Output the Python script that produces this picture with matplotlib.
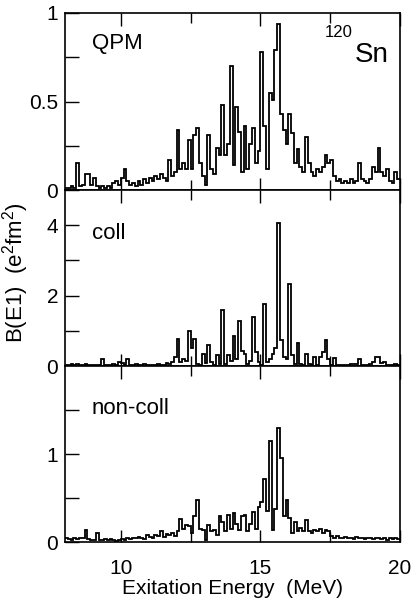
import numpy as np
import matplotlib
matplotlib.use("Agg")
import matplotlib.pyplot as plt
from matplotlib.ticker import FixedLocator

plt.rcParams['font.family'] = ['Liberation Sans', 'DejaVu Sans']
plt.rcParams['mathtext.fontset'] = 'custom'
plt.rcParams['mathtext.rm'] = 'Liberation Sans'
plt.rcParams['mathtext.it'] = 'Liberation Sans'

# bin edges: 8.0 ... 20.0 MeV, 0.1 MeV bins
e_min, e_max, bin_w = 8.0, 20.0, 0.1

qpm = [0.01, 0.01, 0.02, 0.01, 0.155, 0.02, 0.03, 0.09, 0.09, 0.03,
       0.065, 0.02, 0.01, 0.02, 0.01, 0.02, 0.01, 0.04, 0.05, 0.03,
       0.07, 0.12, 0.05, 0.03, 0.04, 0.02, 0.05, 0.03, 0.06, 0.04,
       0.07, 0.05, 0.08, 0.06, 0.09, 0.07, 0.05, 0.17, 0.08, 0.10,
       0.34, 0.12, 0.15, 0.12, 0.28, 0.12, 0.31, 0.35, 0.15, 0.08,
       0.03, 0.31, 0.12, 0.09, 0.235, 0.20, 0.48, 0.20, 0.26, 0.70,
       0.14, 0.47, 0.33, 0.10, 0.36, 0.12, 0.26, 0.35, 0.15, 0.22,
       0.78, 0.36, 0.12, 0.55, 0.51, 0.79, 0.94, 0.43, 0.34, 0.26,
       0.43, 0.32, 0.15, 0.23, 0.13, 0.10, 0.30, 0.15, 0.10, 0.08,
       0.12, 0.10, 0.13, 0.20, 0.15, 0.17, 0.08, 0.05, 0.06, 0.04,
       0.05, 0.04, 0.06, 0.04, 0.05, 0.15, 0.06, 0.05, 0.04, 0.06,
       0.13, 0.10, 0.24, 0.10, 0.08, 0.12, 0.05, 0.04, 0.10, 0.06]

coll = [0.03, 0.03, 0.05, 0.03, 0.07, 0.03, 0.02, 0.05, 0.04, 0.03,
        0.02, 0.03, 0.03, 0.20, 0.03, 0.02, 0.03, 0.05, 0.03, 0.10,
        0.08, 0.04, 0.20, 0.03, 0.03, 0.05, 0.02, 0.03, 0.05, 0.02,
        0.03, 0.04, 0.02, 0.05, 0.03, 0.04, 0.08, 0.05, 0.10, 0.25,
        0.76, 0.10, 0.20, 0.15, 1.00, 0.52, 0.76, 0.05, 0.03, 0.33,
        0.08, 0.61, 0.10, 0.03, 0.30, 0.05, 1.58, 0.05, 0.30, 0.15,
        0.85, 0.20, 1.27, 0.43, 0.35, 0.05, 0.15, 1.39, 0.40, 0.10,
        0.03, 1.75, 0.10, 0.20, 0.35, 0.50, 4.05, 0.73, 0.25, 0.20,
        2.34, 0.30, 0.05, 0.64, 0.05, 0.03, 0.33, 0.05, 0.02, 0.26,
        0.03, 0.26, 0.40, 0.75, 0.20, 0.03, 0.22, 0.03, 0.02, 0.03,
        0.02, 0.03, 0.05, 0.06, 0.05, 0.20, 0.02, 0.03, 0.02, 0.05,
        0.10, 0.25, 0.25, 0.08, 0.12, 0.02, 0.03, 0.02, 0.05, 0.03]

noncoll = [0.04, 0.03, 0.02, 0.04, 0.03, 0.05, 0.04, 0.14, 0.03, 0.02,
           0.02, 0.10, 0.02, 0.02, 0.03, 0.02, 0.03, 0.02, 0.01, 0.02,
           0.03, 0.02, 0.04, 0.03, 0.05, 0.04, 0.06, 0.04, 0.03, 0.08,
           0.06, 0.05, 0.08, 0.07, 0.12, 0.06, 0.09, 0.08, 0.10, 0.07,
           0.12, 0.26, 0.15, 0.19, 0.18, 0.10, 0.29, 0.48, 0.15, 0.14,
           0.02, 0.19, 0.12, 0.14, 0.08, 0.29, 0.23, 0.12, 0.31, 0.15,
           0.33, 0.20, 0.14, 0.30, 0.31, 0.12, 0.20, 0.34, 0.15, 0.40,
           0.46, 0.72, 0.35, 1.15, 0.14, 0.38, 1.30, 0.95, 0.30, 0.48,
           0.27, 0.10, 0.23, 0.13, 0.16, 0.12, 0.25, 0.12, 0.10, 0.14,
           0.12, 0.15, 0.10, 0.14, 0.12, 0.07, 0.05, 0.07, 0.04, 0.05,
           0.06, 0.04, 0.05, 0.03, 0.06, 0.04, 0.05, 0.03, 0.04, 0.05,
           0.03, 0.04, 0.05, 0.03, 0.04, 0.02, 0.04, 0.03, 0.05, 0.03]

panels = [
    dict(vals=qpm, label="QPM", ylim=(0, 1), major=[0, 0.5, 1], majlab=["0", "0.5", "1"], minor=[0.25, 0.75], ly=44),
    dict(vals=coll, label="coll", ylim=(0, 5), major=[0, 2, 4], majlab=["0", "2", "4"], minor=[1, 3, 5], ly=234),
    dict(vals=noncoll, label="non-coll", ylim=(0, 2), major=[0, 1], majlab=["0", "1"], minor=[0.5, 1.5], ly=408),
]

W, H = 412, 606
fig = plt.figure(figsize=(W / 100, H / 100), dpi=100)
left, right = 65, 400
tops = [13, 190, 366]
bots = [190, 366, 542]
FS = 15

edges = np.round(np.arange(e_min, e_max + bin_w / 2, bin_w), 3)

for i, p in enumerate(panels):
    ph = bots[i] - tops[i]
    ax = fig.add_axes([left / W, 1 - bots[i] / H, (right - left) / W, ph / H])
    ax.stairs(p["vals"], edges, color="black", lw=1.3, baseline=None)
    ax.set_xlim(e_min, e_max)
    ax.set_ylim(*p["ylim"])
    ax.yaxis.set_major_locator(FixedLocator(p["major"]))
    ax.set_yticklabels(p["majlab"])
    ax.yaxis.set_minor_locator(FixedLocator(p["minor"]))
    ax.xaxis.set_major_locator(FixedLocator([10, 15, 20]))
    ax.xaxis.set_minor_locator(FixedLocator([12.5, 17.5]))
    ax.tick_params(axis="both", which="both", direction="in", labelsize=FS)
    ax.tick_params(axis="y", which="major", length=10, width=1, left=True, right=False, pad=5)
    ax.tick_params(axis="y", which="minor", length=10, width=1, left=True, right=False)
    ax.tick_params(axis="x", which="major", length=9, width=1, top=True, bottom=True, pad=12)
    ax.tick_params(axis="x", which="minor", length=7, width=1, top=True, bottom=True)
    if i < 2:
        ax.tick_params(axis="x", labelbottom=False)
    else:
        ax.set_xlabel("Exitation Energy  (MeV)", fontsize=FS, labelpad=1)
    for s in ax.spines.values():
        s.set_linewidth(1.2)
    ax.text(27 / (right - left), 1 - (p["ly"] - tops[i]) / ph,
            p["label"], transform=ax.transAxes, fontsize=16, ha="left", va="center")
    if i == 0:
        ax.text(0.965, 1 - (62 - 13) / 177, "Sn", transform=ax.transAxes, fontsize=20,
                ha="right", va="baseline")
        ax.text(0.86, 1 - (37 - 13) / 177, "120", transform=ax.transAxes, fontsize=12,
                ha="right", va="baseline")

fig.text(16 / W, 1 - 273 / H, r"B(E1)  (e$^{2}$fm$^{2}$)", rotation=90, fontsize=16,
         ha="center", va="center", rotation_mode="anchor")

fig.savefig("out.png", dpi=100)
